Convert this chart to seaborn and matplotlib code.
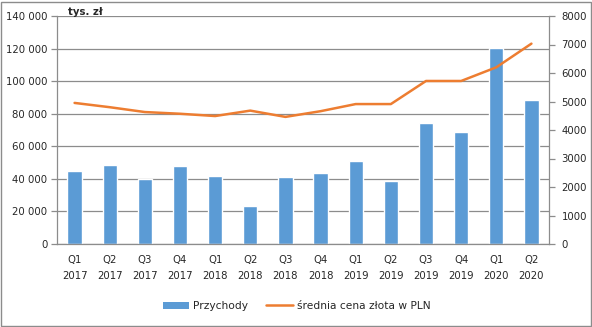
import numpy as np
import pandas as pd
import matplotlib
matplotlib.use("Agg")
import matplotlib.pyplot as plt
from matplotlib.ticker import FuncFormatter, FixedLocator
from matplotlib.lines import Line2D
from matplotlib.patches import Patch, Rectangle
import seaborn as sns

quarters = ["Q1\n2017", "Q2\n2017", "Q3\n2017", "Q4\n2017",
            "Q1\n2018", "Q2\n2018", "Q3\n2018", "Q4\n2018",
            "Q1\n2019", "Q2\n2019", "Q3\n2019", "Q4\n2019",
            "Q1\n2020", "Q2\n2020"]
revenue = [45000, 48600, 39700, 47900, 41800, 23500, 41300, 43800,
           51000, 38900, 74300, 68800, 120300, 88400]
gold_price = [4950, 4800, 4630, 4570, 4490, 4680, 4460, 4660,
              4910, 4910, 5720, 5720, 6200, 7030]

BAR = "#5B9BD5"
LINE = "#ED7D31"
GRID = "#8C8C8C"
FS = 7.3
FS_LEG = 7.7

sns.set_theme(style="white")
plt.rcParams["font.family"] = ["DejaVu Sans"]

df = pd.DataFrame({"kwartal": quarters, "przychody": revenue, "zloto": gold_price})

fig = plt.figure(figsize=(5.92, 3.27), dpi=100)
ax = fig.add_axes([57 / 592, 83 / 327, 492 / 592, 228 / 327])

sns.barplot(data=df, x="kwartal", y="przychody", ax=ax, color=BAR,
            width=0.41, saturation=1, order=quarters)
ax.set_xlim(-0.5, len(quarters) - 0.5)
ax.set_ylim(0, 140000)
ax.set_yticks(np.arange(0, 140001, 20000))
ax.yaxis.set_major_formatter(FuncFormatter(lambda v, p: f"{int(v):,}".replace(",", " ")))
ax.grid(axis="y", color=GRID, linewidth=0.9)
ax.set_axisbelow(True)
ax.set_xlabel("")
ax.set_ylabel("")

ax.xaxis.set_minor_locator(FixedLocator(np.arange(-0.5, len(quarters), 1.0)))
ax.tick_params(axis="x", which="major", length=0, labelsize=FS, pad=8)
ax.tick_params(axis="x", which="minor", length=4, width=0.9, color=GRID, direction="out")
ax.tick_params(axis="y", length=4, width=0.9, color=GRID, direction="out",
               labelsize=FS, pad=3, left=True)
for lbl in ax.get_xticklabels():
    lbl.set_linespacing(1.75)

for side in ["top", "right"]:
    ax.spines[side].set_visible(False)
for side in ["left", "bottom"]:
    ax.spines[side].set_color(GRID)
    ax.spines[side].set_linewidth(0.9)

ax2 = ax.twinx()
sns.lineplot(x=np.arange(len(quarters)), y=gold_price, ax=ax2, color=LINE,
             linewidth=1.8)
ax2.set_ylim(0, 8000)
ax2.set_yticks(np.arange(0, 8001, 1000))
ax2.tick_params(axis="y", length=4, width=0.9, color=GRID, direction="out",
                labelsize=FS, pad=5, right=True)
ax2.grid(False)
for side in ["top", "left", "bottom"]:
    ax2.spines[side].set_visible(False)
ax2.spines["right"].set_color(GRID)
ax2.spines["right"].set_linewidth(0.9)

fig.text(68 / 592, 1 - 12 / 327, "tys. zł", fontsize=FS, fontweight="bold",
         ha="left", va="center")

handles = [Patch(facecolor=BAR, edgecolor="none"),
           Line2D([0], [0], color=LINE, linewidth=1.8)]
fig.legend(handles, ["Przychody", "średnia cena złota w PLN"],
           loc="center left", bbox_to_anchor=(153 / 592, 1 - 306 / 327), ncol=2,
           frameon=False, fontsize=FS_LEG, handlelength=2.45, handleheight=0.7,
           columnspacing=1.75, handletextpad=0.37)

fig.patches.append(Rectangle((0.5 / 592, 1.5 / 327), 590.5 / 592, 324 / 327,
                             transform=fig.transFigure, fill=False,
                             edgecolor="#8C8C8C", linewidth=1.0))

fig.savefig("out.png", dpi=100)
